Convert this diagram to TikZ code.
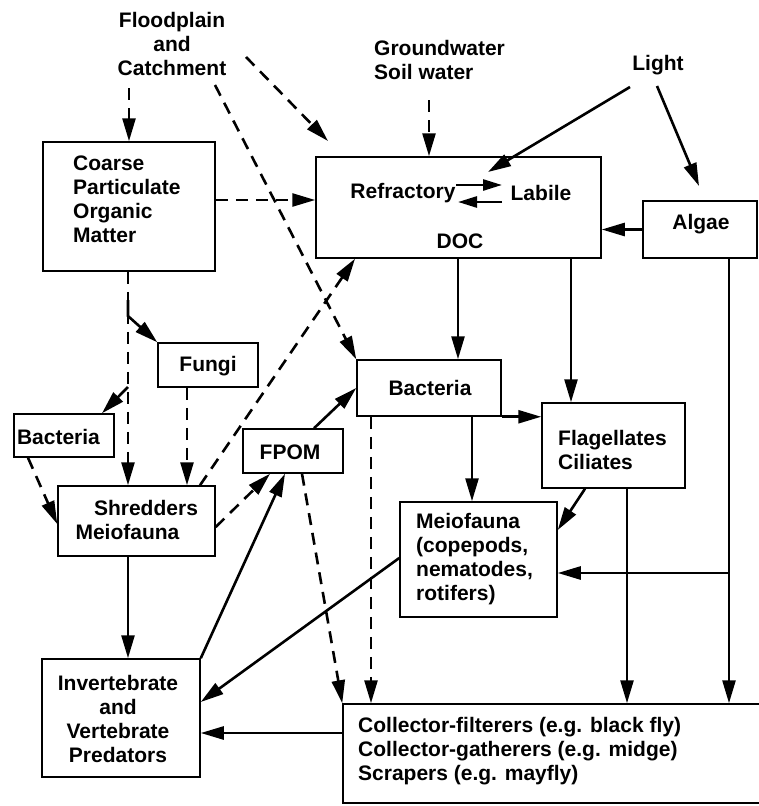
\documentclass[tikz,border=0pt]{standalone}
\usepackage{fontspec}
\setmainfont{Liberation Sans}
\usetikzlibrary{arrows.meta,calc}
\begin{document}
\begin{tikzpicture}[x=1pt,y=-1pt,
  box/.style={draw,line width=1.5pt,rectangle,inner sep=0pt},
  txt/.style={inner sep=0pt,font=\fontsize{21}{24}\selectfont\bfseries},
  sol/.style={line width=2.6pt,-{Triangle[length=23pt,width=13pt]}},
  dsh/.style={sol,dash pattern=on 12pt off 8pt},
  harp/.style={line width=2.6pt,-{Triangle[length=19pt,width=11pt]}}]
\useasboundingbox[fill=white] (0,0) rectangle (759,806);

% boxes
\node[box,minimum width=172pt,minimum height=129pt] (cpom) at (129,206.5) {};
\node[box,minimum width=285pt,minimum height=101pt] (doc) at (458.5,207.5) {};
\node[box,minimum width=114pt,minimum height=57pt] (algae) at (700,229.5) {};
\node[box,minimum width=100pt,minimum height=44pt] (fungi) at (208,365) {};
\node[box,minimum width=100pt,minimum height=43pt] (bacl) at (64,435.5) {};
\node[box,minimum width=100pt,minimum height=44pt] (fpom) at (293,451) {};
\node[box,minimum width=157pt,minimum height=70pt] (shred) at (136.5,521) {};
\node[box,minimum width=144pt,minimum height=56pt] (bacm) at (429,388) {};
\node[box,minimum width=143pt,minimum height=85pt] (flag) at (613.5,445.5) {};
\node[box,minimum width=157pt,minimum height=115pt] (meio) at (478.5,559.5) {};
\node[box,minimum width=158pt,minimum height=118pt] (pred) at (121,718) {};
\node[box,minimum width=420pt,minimum height=99pt] (coll) at (553,753.5) {};

% texts
\node[txt,align=center] (flood) at (172,44) {Floodplain\\and\\Catchment};
\node[txt,align=left,anchor=west] (ground) at (374,60) {Groundwater\\Soil water};
\node[txt] (light) at (658,65) {Light};
\node[txt,align=left,anchor=west] (cpomt) at (73,199) {Coarse\\Particulate\\Organic\\Matter};
\node[txt] (refr) at (403,193) {Refractory};
\node[txt] (lab) at (541,193) {Labile};
\node[txt] (doct) at (460,241) {DOC};
\node[txt] (algaet) at (701,224) {Algae};
\node[txt] (fungit) at (208,366) {Fungi};
\node[txt] (baclt) at (58.5,437) {Bacteria};
\node[txt] (fpomt) at (290,452) {FPOM};
\node[txt] (shredt1) at (146,508) {Shredders};
\node[txt] (shredt2) at (127.5,532) {Meiofauna};
\node[txt] (bacmt) at (430,388) {Bacteria};
\node[txt,align=left,anchor=west] (flagt) at (558,450) {Flagellates\\Ciliates};
\node[txt,align=left,anchor=west] (meiot) at (416,559) {Meiofauna\\(copepods,\\nematodes,\\rotifers)};
\node[txt,align=center] (predt) at (118,719) {Invertebrate\\and\\Vertebrate\\Predators};
\node[txt,align=left,anchor=west] (collt) at (358,751) {Collector-filterers (e.g. black fly)\\Collector-gatherers (e.g. midge)\\Scrapers (e.g. mayfly)};

% free ends
\coordinate (f1) at (129,88);
\coordinate (f2) at (246,57);
\coordinate (f2e) at (328,141);
\coordinate (f3) at (215,85);
\coordinate (g1) at (429,100);
\coordinate (l1) at (630,87);
\coordinate (l1e) at (488,172);
\coordinate (l2) at (657,86);
\coordinate (l2e) at (699,186);
\coordinate (h1) at (456,185);
\coordinate (h2) at (502,185);
\coordinate (h3) at (502,202);
\coordinate (h4) at (458,202);
\coordinate (aj) at (729,573);
\coordinate (cf0) at (128,300);
\coordinate (cf) at (128,316);
\coordinate (bj) at (128,387);

% dashed connectors
\draw[dsh] (f1) -- (cpom.north);
\draw[dsh] (f2) -- (f2e);
\draw[dsh] (f3) -- (bacm.north west);
\draw[dsh] (cpom.east |- 0,200) -- (doc.west |- 0,200);
\draw[dsh] (g1) -- (doc.north -| g1);
\draw[dsh] (bacm.south -| 371,0) -- (coll.north -| 371,0);
\draw[dsh] (fpom.south -| 302,0) -- (coll.north west);
\draw[dsh] (shred.east |- 0,527) -- (fpom.south -| 270,0);
\draw[dsh] (shred.north -| 200,0) -- (doc.south -| 355,0);
\draw[dsh] (cpom.south -| 128,0) -- (shred.north -| 128,0);
\draw[dsh] (fungi.south -| 187,0) -- (shred.north -| 187,0);
\draw[dsh] (bacl.south -| 28,0) -- (shred.west |- 0,524);

% solid connectors
\draw[sol] (l1) -- (l1e);
\draw[sol] (l2) -- (l2e);
\draw[harp] (h1) -- (h2);
\draw[harp] (h3) -- (h4);
\draw[sol] (algae.west) -- (doc.east |- algae.west);
\draw[sol] (doc.south -| 458,0) -- (bacm.north -| 458,0);
\draw[sol] (doc.south -| 571,0) -- (flag.north -| 571,0);
\draw[sol] (algae.south -| 729,0) -- (coll.north -| 729,0);
\draw[sol] (aj) -- (meio.east |- aj);
\draw[sol] (flag.south -| 627,0) -- (coll.north -| 627,0);
\draw[sol] (flag.south -| 585,0) -- (meio.east |- 0,530);
\draw[sol] (bacm.south east) -- (flag.west |- bacm.south east);
\draw[sol] (bacm.south -| 472,0) -- (meio.north -| 472,0);
\draw[sol] (fpom.north -| 314,0) -- (bacm.west);
\draw[sol] (pred.north east) -- (fpom.south -| 285,0);
\draw[sol] (meio.west |- 0,558) -- (pred.east |- 0,702);
\draw[sol] (coll.west |- 0,733) -- (pred.east |- 0,733);
\draw[sol] (shred.south -| 128,0) -- (pred.north -| 128,0);
\draw[sol] (cf0) -- (cf) -- (fungi.north west);
\draw[sol] (bj) -- (bacl.north -| 102,0);
\end{tikzpicture}
\end{document}
